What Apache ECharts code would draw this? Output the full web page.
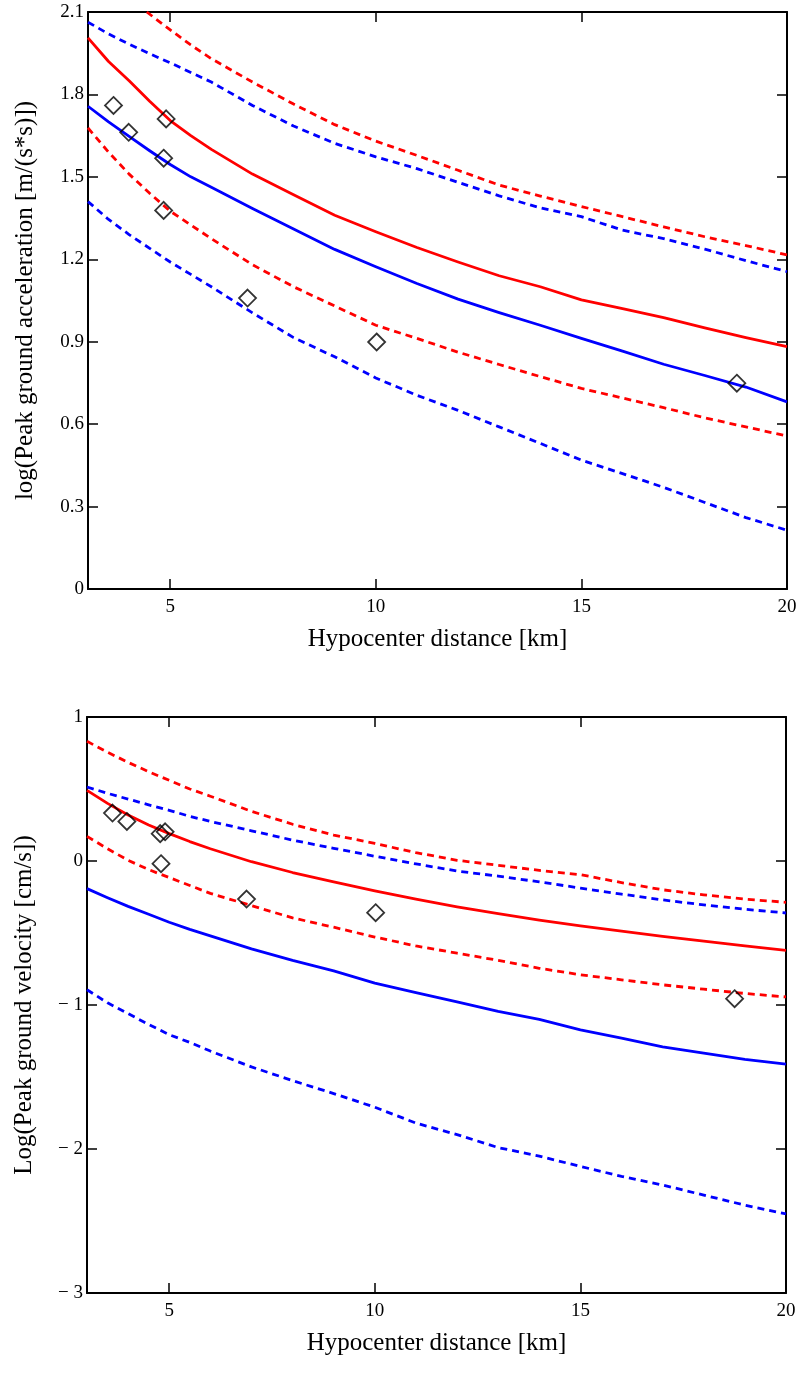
<!DOCTYPE html>
<html><head><meta charset="utf-8">
<script src="https://cdn.jsdelivr.net/npm/echarts@6/dist/echarts.min.js"></script>
<style>html,body{margin:0;padding:0;background:#fff}#c{width:804px;height:1376px}</style>
</head><body><div id="c"></div>
<script>
// ---------- data ----------
const distance = [3,3.5,4,4.5,5,5.5,6,7,8,9,10,11,12,13,14,15,16,17,18,19,20];
const xTickValues = [5,10,15,20];

// Panel 1: log(PGA)
const pgaRedMean   = [2.006,1.92,1.85,1.775,1.705,1.65,1.60,1.51,1.435,1.36,1.30,1.243,1.19,1.14,1.10,1.052,1.02,0.988,0.95,0.915,0.882];
const pgaRedLower  = [1.678,1.59,1.51,1.44,1.375,1.325,1.275,1.18,1.10,1.03,0.96,0.912,0.862,0.817,0.773,0.73,0.695,0.66,0.623,0.59,0.557];
const pgaRedUpperDist = [4.43,5,5.5,6,7,8,9,10,11,12,13,14,15,16,17,18,19,20];
const pgaRedUpper  = [2.10,2.035,1.98,1.93,1.845,1.765,1.69,1.63,1.578,1.524,1.47,1.43,1.392,1.355,1.318,1.282,1.25,1.216];
const pgaBlueMean  = [1.757,1.70,1.647,1.595,1.545,1.50,1.462,1.385,1.31,1.236,1.173,1.112,1.055,1.006,0.96,0.912,0.866,0.818,0.777,0.735,0.681];
const pgaBlueUpper = [2.063,2.02,1.983,1.948,1.915,1.88,1.845,1.76,1.685,1.622,1.573,1.53,1.48,1.431,1.387,1.355,1.306,1.275,1.237,1.195,1.155];
const pgaBlueLower = [1.41,1.345,1.29,1.24,1.19,1.145,1.10,1.005,0.915,0.845,0.768,0.705,0.65,0.59,0.53,0.469,0.42,0.37,0.315,0.26,0.214];
const pgaObsDist   = [3.62,3.99,4.90,4.84,4.84,6.88,10.02,18.78];
const pgaObs       = [1.76,1.662,1.711,1.568,1.378,1.059,0.899,0.749];
const pgaTicks     = {min:0, max:2.1, step:0.3};

// Panel 2: log(PGV)
const pgvRedMean   = [0.49,0.40,0.32,0.25,0.19,0.135,0.085,-0.005,-0.08,-0.145,-0.208,-0.265,-0.318,-0.365,-0.41,-0.45,-0.487,-0.523,-0.557,-0.59,-0.621];
const pgvRedUpper  = [0.831,0.755,0.685,0.62,0.56,0.50,0.45,0.345,0.255,0.18,0.122,0.058,0.005,-0.03,-0.065,-0.095,-0.15,-0.2,-0.235,-0.265,-0.287];
const pgvRedLower  = [0.171,0.085,0.005,-0.06,-0.115,-0.17,-0.225,-0.31,-0.395,-0.46,-0.528,-0.59,-0.64,-0.69,-0.745,-0.79,-0.825,-0.86,-0.89,-0.92,-0.944];
const pgvBlueMean  = [-0.192,-0.255,-0.315,-0.37,-0.425,-0.475,-0.52,-0.61,-0.69,-0.763,-0.848,-0.914,-0.978,-1.045,-1.1,-1.172,-1.23,-1.29,-1.335,-1.378,-1.41];
const pgvBlueUpper = [0.514,0.47,0.43,0.39,0.352,0.31,0.275,0.21,0.145,0.088,0.033,-0.02,-0.07,-0.105,-0.145,-0.188,-0.23,-0.27,-0.305,-0.335,-0.361];
const pgvBlueLower = [-0.894,-0.985,-1.06,-1.135,-1.206,-1.26,-1.32,-1.43,-1.525,-1.615,-1.71,-1.82,-1.9,-1.99,-2.05,-2.121,-2.19,-2.25,-2.32,-2.39,-2.451];
const pgvObsDist   = [3.62,3.97,4.78,4.90,4.80,6.88,10.02,18.75];
const pgvObs       = [0.333,0.275,0.19,0.203,-0.019,-0.264,-0.359,-0.956];
const pgvTicks     = {min:-3, max:1, step:1};

const xTitle = 'Hypocenter distance [km]';
const pgaTitle = 'log(Peak ground acceleration [m/(s*s)])';
const pgvTitle = 'Log(Peak ground velocity [cm/s])';

// ---------- chart ----------
const FONT = '"Liberation Serif","Times New Roman",serif';
const RED = '#ff0000', BLUE = '#0000ff';
const pair = (xs, ys) => xs.map((x, i) => [x, ys[i]]);

function xAx(grid, pos, withLabels) {
  return {
    type:'value', gridIndex:grid, position:pos, min:3, max:20,
    axisLine:{show:true, onZero:false, lineStyle:{color:'#000', width:2}},
    axisTick:{show:true, inside:true, length:10, customValues:xTickValues, lineStyle:{color:'#000', width:1.5}},
    axisLabel:{show:withLabels, customValues:xTickValues, margin:9, color:'#000', fontFamily:FONT, fontSize:19},
    splitLine:{show:false},
    name: withLabels ? xTitle : '', nameLocation:'middle', nameGap:38,
    nameTextStyle:{color:'#000', fontFamily:FONT, fontSize:25}
  };
}
function yAx(grid, pos, t, withLabels, title, fmt) {
  return {
    type:'value', gridIndex:grid, position:pos, min:t.min, max:t.max, interval:t.step,
    axisLine:{show:true, onZero:false, lineStyle:{color:'#000', width:2}},
    axisTick:{show:true, inside:true, length:10, lineStyle:{color:'#000', width:1.5}},
    axisLabel:{show:withLabels, margin:4, color:'#000', fontFamily:FONT, fontSize:19, formatter:fmt},
    splitLine:{show:false},
    name: withLabels ? title : '', nameLocation:'middle', nameGap:50, nameRotate:90,
    nameTextStyle:{color:'#000', fontFamily:FONT, fontSize:25}
  };
}
function line(xi, yi, xs, ys, color, dashed) {
  return {
    type:'line', xAxisIndex:xi, yAxisIndex:yi, data:pair(xs, ys),
    showSymbol:false, symbol:'none', smooth:false, clip:true, silent:true,
    lineStyle:{color:color, width:2.8, type: dashed ? [7,5] : 'solid', join:'round'}
  };
}
function obs(xi, yi, xs, ys) {
  return {
    type:'scatter', xAxisIndex:xi, yAxisIndex:yi, data:pair(xs, ys),
    symbol:'diamond', symbolSize:17, z:5, silent:true,
    itemStyle:{color:'rgba(0,0,0,0)', borderColor:'#000', borderWidth:1.8}
  };
}
const fmtPGA = v => Math.abs(v) < 1e-9 ? '0' : v.toFixed(1);
const fmtPGV = v => v < 0 ? '\u2212 ' + Math.abs(Math.round(v)) : String(Math.round(v));

const chart = echarts.init(document.getElementById('c'), null, {renderer:'canvas'});
chart.setOption({
  backgroundColor:'#fff',
  animation:false,
  grid:[
    {left:88, right:17, top:12, bottom:787},
    {left:87, right:18, top:717, bottom:83}
  ],
  xAxis:[ xAx(0,'bottom',true), xAx(0,'top',false), xAx(1,'bottom',true), xAx(1,'top',false) ],
  yAxis:[
    yAx(0,'left',pgaTicks,true,pgaTitle,fmtPGA), yAx(0,'right',pgaTicks,false,'',fmtPGA),
    yAx(1,'left',pgvTicks,true,pgvTitle,fmtPGV), yAx(1,'right',pgvTicks,false,'',fmtPGV)
  ],
  series:[
    line(0,0,distance,pgaBlueUpper,BLUE,true),
    line(0,0,distance,pgaBlueLower,BLUE,true),
    line(0,0,pgaRedUpperDist,pgaRedUpper,RED,true),
    line(0,0,distance,pgaRedLower,RED,true),
    line(0,0,distance,pgaBlueMean,BLUE,false),
    line(0,0,distance,pgaRedMean,RED,false),
    obs(0,0,pgaObsDist,pgaObs),
    line(2,2,distance,pgvBlueUpper,BLUE,true),
    line(2,2,distance,pgvBlueLower,BLUE,true),
    line(2,2,distance,pgvRedUpper,RED,true),
    line(2,2,distance,pgvRedLower,RED,true),
    line(2,2,distance,pgvBlueMean,BLUE,false),
    line(2,2,distance,pgvRedMean,RED,false),
    obs(2,2,pgvObsDist,pgvObs)
  ]
});
</script>
</body></html>
